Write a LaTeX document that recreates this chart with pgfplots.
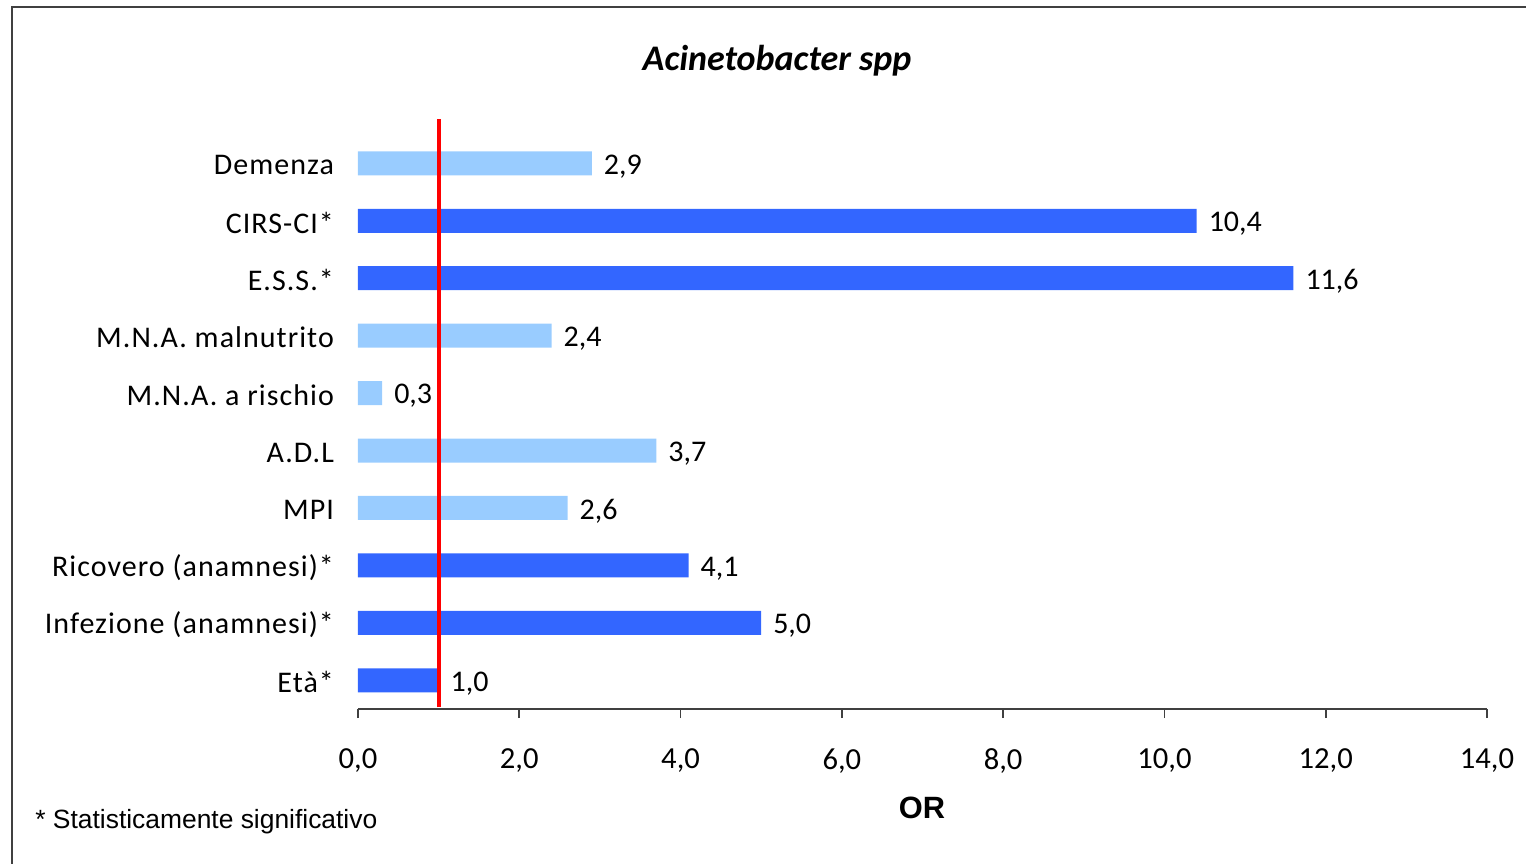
\documentclass[border=0pt]{standalone}
\usepackage{pgfplots}
\pgfplotsset{compat=1.18}
\usepackage{fontspec}
\setmainfont{Carlito}
\newfontfamily\spaced[LetterSpace=3.5]{Carlito}
\newfontfamily\arial{Liberation Sans}
\definecolor{darkbar}{HTML}{3366FF}
\definecolor{lightbar}{HTML}{99CCFF}
\definecolor{axgray}{HTML}{404040}
\begin{document}
\begin{tikzpicture}
\begin{scope}[x=0.5pt,y=-0.5pt]
\useasboundingbox (0,0) rectangle (1526,863);
\draw[line width=1.2pt,draw=axgray] (12,7) rectangle (1540,880);
\node[font=\fontsize{18}{21}\selectfont\bfseries\itshape] at (777,61) {Acinetobacter spp};
\node[font=\arial\fontsize{15.4}{18}\selectfont\bfseries] at (922,808) {OR};
\node[font=\arial\fontsize{13.2}{16}\selectfont,anchor=west,inner sep=0pt] at (35,822) {* Statisticamente significativo};
\end{scope}
\begin{axis}[
  at={(179pt,-354.5pt)}, anchor=south west,
  scale only axis, width=564.5pt, height=287.2pt,
  xmin=0, xmax=14, ymin=-0.5, ymax=9.5,
  clip=false,
  axis x line*=bottom, axis y line*=left,
  x axis line style={draw=axgray, line width=0.8pt},
  y axis line style={draw=none},
  xtick={0,2,...,14},
  xtick style={draw=axgray, line width=0.8pt},
  xtick align=outside, major tick length=4.5pt,
  ytick={0,...,9}, ytick style={draw=none},
  yticklabels={Età*,Infezione (anamnesi)*,Ricovero (anamnesi)*,MPI,A.D.L,M.N.A. a rischio,M.N.A. malnutrito,E.S.S.*,CIRS-CI*,Demenza},
  ticklabel style={font=\fontsize{15.3}{18}\selectfont},
  yticklabel style={font=\spaced\fontsize{15}{18}\selectfont, xshift=-8.5pt, yshift=-1pt},
  xticklabel style={yshift=-12pt},
  /pgf/number format/assume math mode=true,
  xticklabel={\pgfmathprintnumber[fixed,fixed zerofill,precision=1,use comma]{\tick}},
]
\addplot[xbar, bar width=12pt, bar shift=0pt, fill=darkbar, draw=none,
  point meta=x,
  nodes near coords={\pgfmathprintnumber[fixed,fixed zerofill,precision=1,use comma]{\pgfplotspointmeta}},
  nodes near coords style={anchor=west, xshift=2.5pt, yshift=-1.5pt, font=\fontsize{15}{18}\selectfont}]
  coordinates {(1.0,0) (5.0,1) (4.1,2) (11.6,7) (10.4,8)};
\addplot[xbar, bar width=12pt, bar shift=0pt, fill=lightbar, draw=none,
  point meta=x,
  nodes near coords={\pgfmathprintnumber[fixed,fixed zerofill,precision=1,use comma]{\pgfplotspointmeta}},
  nodes near coords style={anchor=west, xshift=2.5pt, yshift=-1.5pt, font=\fontsize{15}{18}\selectfont}]
  coordinates {(2.6,3) (3.7,4) (0.3,5) (2.4,6) (2.9,9)};
\addplot[red, line width=2pt, sharp plot, mark=none] coordinates {(1,-0.47) (1,9.78)};
\end{axis}
\end{tikzpicture}
\end{document}
